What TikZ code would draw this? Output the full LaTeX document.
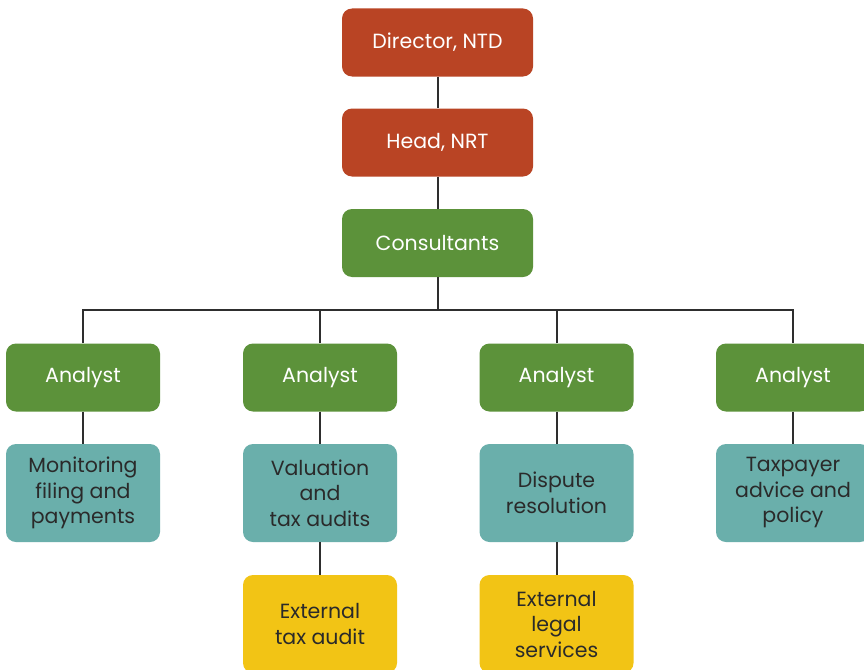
\documentclass[tikz,border=0pt]{standalone}
\usepackage{fontspec}
\setmainfont{Poppins}
\definecolor{cred}{HTML}{B94424}
\definecolor{cgreen}{HTML}{5C923A}
\definecolor{cteal}{HTML}{6AAFAB}
\definecolor{cyellow}{HTML}{F2C415}
\definecolor{ctext}{HTML}{2A2A2A}
\definecolor{cline}{HTML}{2E2E2E}
\begin{document}
\begin{tikzpicture}[x=1pt,y=-1pt,
  box/.style={rounded corners=10pt,minimum height=68pt,align=center,inner sep=0pt,font=\fontsize{20.5}{25.5}\selectfont},
  topbox/.style={box,minimum width=191pt,fill=cred,text=white},
  greenbox/.style={box,fill=cgreen,text=white},
  anbox/.style={greenbox,minimum width=154pt},
  tealbox/.style={box,minimum width=154pt,minimum height=98pt,fill=cteal,text=ctext},
  yelbox/.style={box,minimum width=154pt,minimum height=98pt,fill=cyellow,text=ctext},
  conn/.style={draw=cline,line width=2pt}]
\useasboundingbox (0,0) rectangle (864,669);
\clip (0,0) rectangle (864,669);
\fill[white] (0,0) rectangle (864,669);
\node[topbox] (dir) at (437.5,42.5) {Director, NTD};
\node[topbox] (head) at (437.5,142.5) {Head, NRT};
\node[greenbox,minimum width=191pt] (cons) at (437.5,243) {Consultants};
\coordinate (bus) at (437.5,310);
\node[anbox] (a1) at (83,377.5) {Analyst};
\node[anbox] (a2) at (320,377.5) {Analyst};
\node[anbox] (a3) at (556.5,377.5) {Analyst};
\node[anbox] (a4) at (793,377.5) {Analyst};
\node[tealbox] (t1) at (83,493) {Monitoring\\filing and\\payments};
\node[tealbox] (t2) at (320,493) {Valuation\\and\\tax audits};
\node[tealbox] (t3) at (556.5,493) {Dispute\\resolution};
\node[tealbox] (t4) at (793,493) {Taxpayer\\advice and\\policy};
\node[yelbox] (y2) at (320,624) {External\\tax audit};
\node[yelbox] (y3) at (556.5,624) {External\\legal\\services};
\draw[conn] (dir.south) -- (head.north);
\draw[conn] (head.south) -- (cons.north);
\draw[conn] (cons.south) -- (bus);
\draw[conn] (a1.north) |- (bus) -| (a4.north);
\draw[conn] (a2.north) -- (a2.north |- bus);
\draw[conn] (a3.north) -- (a3.north |- bus);
\draw[conn] (a1.south) -- (t1.north);
\draw[conn] (a2.south) -- (t2.north);
\draw[conn] (a3.south) -- (t3.north);
\draw[conn] (a4.south) -- (t4.north);
\draw[conn] (t2.south) -- (y2.north);
\draw[conn] (t3.south) -- (y3.north);
\end{tikzpicture}
\end{document}
